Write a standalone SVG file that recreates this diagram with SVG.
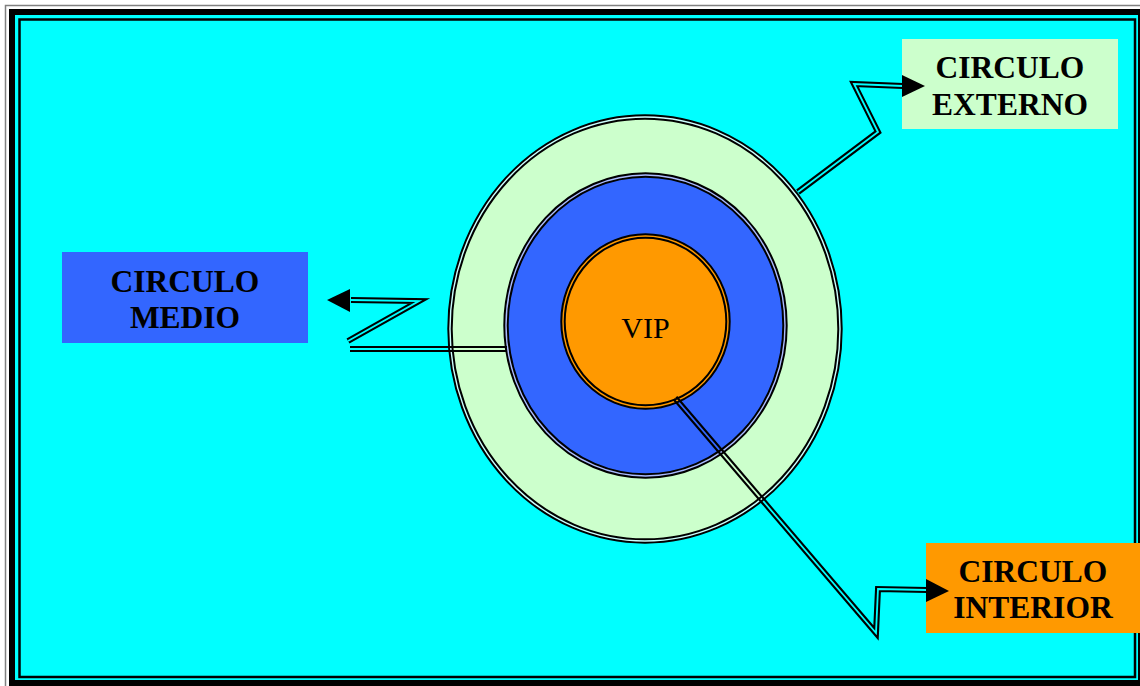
<svg xmlns="http://www.w3.org/2000/svg" xmlns:xlink="http://www.w3.org/1999/xlink" width="1140" height="686" viewBox="0 0 1140 686">
<style>
.lbl{font-family:"Liberation Serif","Times New Roman",serif;font-weight:bold;font-size:31.5px;fill:#000;text-anchor:middle}
.vip{font-family:"Liberation Serif","Times New Roman",serif;font-size:30px;fill:#000;text-anchor:middle}
.ring{stroke:#000;stroke-width:5.4;fill:none}
.arrow{fill:#000;stroke:none}
</style>
<defs>
<path id="c1" d="M798,192 L878,132 L854,84 L903,86"/>
<path id="c2" d="M507,349 L350,349 M348,341 L419,301 L351,300"/>
<path id="c3" d="M675,398 L876,633 L878,589 L927,590"/>
<mask id="gap" maskUnits="userSpaceOnUse" x="0" y="0" width="1140" height="686">
<rect x="0" y="0" width="1140" height="686" fill="#fff"/>
<g stroke="#000" stroke-width="1.8" fill="none" stroke-linejoin="miter" stroke-miterlimit="6">
<use xlink:href="#c1"/><use xlink:href="#c2"/><use xlink:href="#c3"/>
</g>
</mask>
</defs>

<g id="frame">
<rect x="0" y="0" width="1140" height="686" fill="#fff"/>
<rect x="5.5" y="5.5" width="1150" height="700" fill="none" stroke="#808080" stroke-width="1.5"/>
<rect x="9" y="9" width="1140" height="690" fill="#00FFFF"/>
<rect x="12" y="12" width="1129" height="671" fill="none" stroke="#000" stroke-width="6"/>
<rect x="19.5" y="19.5" width="1115.5" height="657.5" fill="none" stroke="#000" stroke-width="2.5"/>
</g>

<g id="circulo-externo-ring">
<ellipse cx="645" cy="329" rx="195" ry="212" fill="#CCFFCC"/>
<ellipse class="ring" cx="645" cy="329" rx="195" ry="212"/>
<ellipse cx="645" cy="329" rx="195" ry="212" fill="none" stroke="#CCFFFF" stroke-width="1.4"/>
</g>
<g id="circulo-medio-ring">
<ellipse cx="645.5" cy="325.5" rx="139.5" ry="150.5" fill="#3366FF"/>
<ellipse class="ring" cx="645.5" cy="325.5" rx="139.5" ry="150.5"/>
<ellipse cx="645.5" cy="325.5" rx="139.5" ry="150.5" fill="none" stroke="#AABBFF" stroke-width="1.4"/>
</g>
<g id="vip">
<ellipse cx="645.5" cy="321.5" rx="82.5" ry="85.5" fill="#FF9900"/>
<ellipse class="ring" cx="645.5" cy="321.5" rx="82.5" ry="85.5"/>
<ellipse cx="645.5" cy="321.5" rx="82.5" ry="85.5" fill="none" stroke="#FF9900" stroke-width="1.4"/>
<text class="vip" x="645.5" y="338">VIP</text>
</g>

<g id="label-externo">
<rect x="902" y="39" width="216" height="90" fill="#CCFFCC"/>
<text class="lbl" x="1010" y="78">CIRCULO</text>
<text class="lbl" x="1010" y="115">EXTERNO</text>
</g>
<g id="label-medio">
<rect x="62" y="252" width="246" height="91" fill="#3366FF"/>
<text class="lbl" x="185" y="292">CIRCULO</text>
<text class="lbl" x="185" y="328">MEDIO</text>
</g>
<g id="label-interior">
<rect x="926" y="543" width="214" height="90" fill="#FF9900"/>
<text class="lbl" x="1033" y="582">CIRCULO</text>
<text class="lbl" x="1033" y="618">INTERIOR</text>
</g>

<g id="connectors">
<g mask="url(#gap)" stroke="#000" stroke-width="6" fill="none" stroke-linejoin="miter" stroke-miterlimit="6">
<use xlink:href="#c1"/><use xlink:href="#c2"/><use xlink:href="#c3"/>
</g>
<polygon class="arrow" points="902,75 925,86 902,97"/>
<polygon class="arrow" points="350,289 327,300 350,312"/>
<polygon class="arrow" points="926,579 949,591 926,602"/>
</g>
</svg>
